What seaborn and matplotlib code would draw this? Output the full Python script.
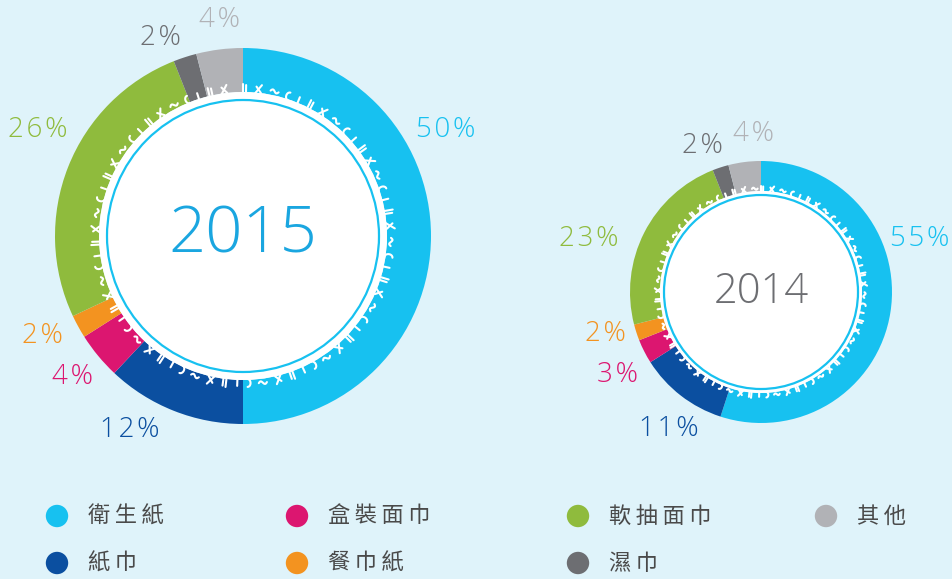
import numpy as np
import matplotlib
matplotlib.use("Agg")
import matplotlib.pyplot as plt
import seaborn as sns
import pandas as pd
from matplotlib.patches import Circle

# ---- data ----
categories = ["衛生紙", "紙巾", "盒裝面巾", "餐巾紙", "軟抽面巾", "濕巾", "其他"]
share_2015 = [50, 12, 4, 2, 26, 2, 4]
share_2014 = [55, 11, 3, 2, 23, 2, 4]
colors = ["#17c1f0", "#0b4fa0", "#dc1670", "#f39320", "#8fbb3d", "#6d6e72", "#b1b2b6"]

legend_order = ["衛生紙", "盒裝面巾", "軟抽面巾", "其他", "紙巾", "餐巾紙", "濕巾"]

# ---- style ----
BG = "#dff3fa"
sns.set_theme(style="white", rc={"figure.facecolor": BG, "axes.facecolor": BG})
plt.rcParams["font.family"] = ["Open Sans", "Noto Sans CJK TC", "DejaVu Sans"]
palette = dict(zip(categories, sns.color_palette(colors)))

W, H = 953, 579
fig = plt.figure(figsize=(W / 100, H / 100), dpi=100)
ax = fig.add_axes([0, 0, 1, 1])


def yy(y):
    # pixel row (from top) -> data y (up)
    return H - y


# little white glyph-like motifs drawn around the inner edge of each ring
# (t = along the ring, h = outwards), in pixels
tt = np.linspace(0, 1, 12)
MOTIFS = [
    [([0, 0], [0, 9]), ([3, 3], [0, 8])],                     # "II"
    [([0, 6], [0, 9]), ([6, 1], [1, 7])],                     # "X"
    [(tt * 8, 5 + 1.6 * np.sin(tt * 2 * np.pi))],             # "~"
    [(3 + 3 * np.cos(np.pi / 2 + tt * np.pi), 4 + 4 * np.sin(np.pi / 2 + tt * np.pi))],  # "C"
    [([0, 0], [0, 7])],                                       # "I"
]
WIDTHS = [6, 9, 10, 7, 5]


def fringe(cx, cy, r0, scale):
    circ = 2 * np.pi * r0
    pos, k = 0.0, 0
    while pos < circ - 8:
        m = MOTIFS[k % len(MOTIFS)]
        for t, h in m:
            t = np.asarray(t, float) * scale + pos
            h = np.asarray(h, float) * scale
            ang = np.pi / 2 - t / r0
            r = r0 - 1 + h
            ax.plot(cx + r * np.cos(ang), cy + r * np.sin(ang), color="white",
                    lw=1.5, solid_capstyle="round", zorder=3)
        pos += (WIDTHS[k % len(WIDTHS)] + 6) * scale
        k += 1


def donut(values, cx, cy, r_out, r_white, r_line, year, year_color, year_size,
          label_pos):
    cy = yy(cy)
    ax.pie(values, colors=colors, startangle=90, counterclock=False,
           center=(cx, cy), radius=r_out,
           wedgeprops=dict(width=r_out - r_white, linewidth=0))
    ax.add_patch(Circle((cx, cy), r_white, facecolor="white", edgecolor="none", zorder=3))
    fringe(cx, cy, r_white, r_out / 188)
    ax.add_patch(Circle((cx, cy), r_line, facecolor="white",
                        edgecolor="#17c1f0", lw=1.6, zorder=4))
    ax.text(cx, cy, year, ha="center", va="center", color=year_color,
            fontsize=year_size, fontweight="light", zorder=5)
    for v, c, (lx, ly) in zip(values, colors, label_pos):
        ax.text(lx, yy(ly), "\u200a".join(f"{v}%"), ha="center", va="center", color=c,
                fontsize=20, fontweight="light", zorder=5)


donut(share_2015, 243, 236, 188, 144, 136, "2015", "#1aa6e0", 47,
      [(446, 130), (130, 430), (73, 377), (42, 336), (38, 130), (160, 38), (220, 20)])
donut(share_2014, 761, 292, 131, 101, 97, "2014", "#6d6e72", 30,
      [(920, 239), (669, 429), (618, 375), (605, 334), (589, 239), (702, 146), (754, 134)])

# ---- legend ----
mx = [57, 297, 578, 826, 57, 297, 578]
my = [516, 516, 516, 516, 563, 563, 563]
leg = pd.DataFrame({"cat": legend_order, "x": mx, "y": [yy(v) for v in my]})
sns.scatterplot(data=leg, x="x", y="y", hue="cat", palette=palette, s=260,
                linewidth=0, legend=False, ax=ax, zorder=5)
for cat, x, y in zip(legend_order, mx, my):
    ax.text(x + 31, yy(y), "\u2009".join(cat), ha="left", va="center", color="#4a4a4a",
            fontsize=16, family=["Noto Sans CJK TC", "DejaVu Sans"], zorder=5)

ax.set_xlim(0, W)
ax.set_ylim(0, H)
ax.set_aspect("equal")
ax.set_axis_off()
ax.set_position([0, 0, 1, 1])
fig.savefig("out.png", dpi=100, facecolor=BG)
